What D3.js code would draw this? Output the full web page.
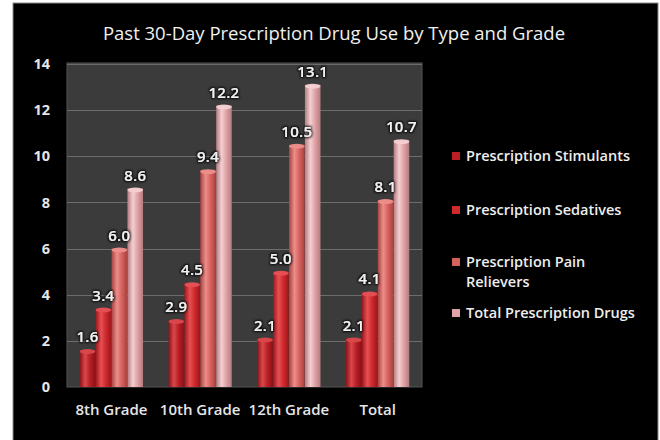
<!DOCTYPE html>
<html>
<head>
<meta charset="utf-8">
<script src="https://cdn.jsdelivr.net/npm/d3@7"></script>
<style>
  html, body { margin: 0; padding: 0; background: #ffffff; }
  svg { display: block; }
  text { font-family: "Open Sans", "DejaVu Sans", sans-serif; }
</style>
</head>
<body>
<svg id="chart" width="660" height="440"></svg>
<script>
// Data
const grades = ["8th Grade", "10th Grade", "12th Grade", "Total"];
const seriesNames = ["Prescription Stimulants", "Prescription Sedatives", "Prescription Pain Relievers", "Total Prescription Drugs"];
const stimulants = [1.6, 2.9, 2.1, 2.1];
const sedatives = [3.4, 4.5, 5.0, 4.1];
const painRelievers = [6.0, 9.4, 10.5, 8.1];
const totalDrugs = [8.6, 12.2, 13.1, 10.7];
const yTicks = [0, 2, 4, 6, 8, 10, 12, 14];
const legendLines = [["Prescription Stimulants"], ["Prescription Sedatives"], ["Prescription Pain", "Relievers"], ["Total Prescription Drugs"]];

const seriesValues = [stimulants, sedatives, painRelievers, totalDrugs];
const baseColors = ["#b91f25", "#cf2a2d", "#d6625f", "#dfa2a6"];
const lightColors = ["#d9484c", "#e65054", "#ec8e8a", "#f4cfd2"];
const darkColors = ["#8a1218", "#9c161b", "#a8423f", "#b57c80"];

const svg = d3.select("#chart");
const defs = svg.append("defs");

// Cylindrical shading for each series
baseColors.forEach((c, i) => {
  const g = defs.append("linearGradient").attr("id", "grad" + i)
    .attr("x1", "0%").attr("x2", "100%").attr("y1", "0%").attr("y2", "0%");
  g.append("stop").attr("offset", "0%").attr("stop-color", darkColors[i]);
  g.append("stop").attr("offset", "35%").attr("stop-color", lightColors[i]);
  g.append("stop").attr("offset", "65%").attr("stop-color", baseColors[i]);
  g.append("stop").attr("offset", "100%").attr("stop-color", darkColors[i]);
});

// Soft dark halo behind value labels
const f = defs.append("filter").attr("id", "halo").attr("x", "-30%").attr("y", "-30%").attr("width", "160%").attr("height", "160%");
f.append("feMorphology").attr("in", "SourceAlpha").attr("operator", "dilate").attr("radius", 1.2).attr("result", "d");
f.append("feGaussianBlur").attr("in", "d").attr("stdDeviation", 1).attr("result", "b");
f.append("feFlood").attr("flood-color", "#000").attr("flood-opacity", 0.85);
f.append("feComposite").attr("in2", "b").attr("operator", "in").attr("result", "s");
const fm = f.append("feMerge");
fm.append("feMergeNode").attr("in", "s");
fm.append("feMergeNode").attr("in", "SourceGraphic");

// Chart background
svg.append("rect").attr("x", 13).attr("y", 3).attr("width", 645).attr("height", 440).attr("fill", "#000");
svg.append("rect").attr("x", 13).attr("y", 3).attr("width", 645).attr("height", 440)
  .attr("fill", "none").attr("stroke", "#8a8a8a").attr("stroke-width", 1);

const plot = { left: 67, right: 422, top: 63, bottom: 387 };

const y = d3.scaleLinear().domain([0, 14]).range([plot.bottom, plot.top + 1]);
const x0 = d3.scaleBand().domain(grades).range([plot.left, plot.right])
  .paddingInner(0.28).paddingOuter(0.14);
const x1 = d3.scaleBand().domain(d3.range(4)).range([0, x0.bandwidth()]).padding(0.02);

// Plot area
svg.append("rect").attr("x", plot.left).attr("y", plot.top)
  .attr("width", plot.right - plot.left).attr("height", plot.bottom - plot.top)
  .attr("fill", "#3b3b3b").attr("stroke", "#555").attr("stroke-width", 1);

// Gridlines
svg.append("g").selectAll("line").data(yTicks.filter(t => t > 0)).join("line")
  .attr("x1", plot.left).attr("x2", plot.right)
  .attr("y1", d => Math.round(y(d)) + 0.5).attr("y2", d => Math.round(y(d)) + 0.5)
  .attr("stroke", "#6c6c6c").attr("stroke-width", 1);

// Y axis
const yAxis = svg.append("g").attr("transform", `translate(${plot.left - 17},0)`)
  .call(d3.axisLeft(y).tickValues(yTicks).tickSize(0).tickPadding(0).tickFormat(d3.format("d")));
yAxis.select(".domain").remove();
yAxis.selectAll("text").attr("fill", "#e6e6e6").attr("font-size", 14.5).attr("font-weight", 700)
  .attr("font-family", "'Open Sans', sans-serif");

// X axis
const xAxis = svg.append("g").attr("transform", `translate(0,${plot.bottom + 17})`)
  .call(d3.axisBottom(x0).tickSize(0).tickPadding(0));
xAxis.select(".domain").remove();
xAxis.selectAll("text").attr("fill", "#e6e6e6").attr("font-size", 15).attr("font-weight", 600)
  .attr("font-family", "'Open Sans', sans-serif").attr("dy", "0.7em");

// Bars
const rows = grades.map((g, gi) => ({ grade: g, vals: seriesValues.map(s => s[gi]) }));
const groups = svg.append("g").selectAll("g").data(rows).join("g")
  .attr("transform", d => `translate(${x0(d.grade)},0)`);

groups.selectAll("rect.bar").data(d => d.vals.map((v, i) => ({ v, i }))).join("rect")
  .attr("class", "bar")
  .attr("x", d => x1(d.i))
  .attr("y", d => y(d.v))
  .attr("width", x1.bandwidth())
  .attr("height", d => y(0) - y(d.v))
  .attr("fill", d => `url(#grad${d.i})`);

// Top caps
groups.selectAll("ellipse.cap").data(d => d.vals.map((v, i) => ({ v, i }))).join("ellipse")
  .attr("class", "cap")
  .attr("cx", d => x1(d.i) + x1.bandwidth() / 2)
  .attr("cy", d => y(d.v) + 1.5)
  .attr("rx", x1.bandwidth() / 2)
  .attr("ry", 2.5)
  .attr("fill", d => lightColors[d.i])
  .attr("opacity", 0.95);

// Value labels
groups.selectAll("text.val").data(d => d.vals.map((v, i) => ({ v, i }))).join("text")
  .attr("class", "val")
  .attr("x", d => x1(d.i) + x1.bandwidth() / 2)
  .attr("y", d => y(d.v) - 8)
  .attr("text-anchor", "middle")
  .attr("fill", "#f2f2f2")
  .attr("font-size", 15)
  .attr("font-weight", 600)
  .attr("letter-spacing", 0.3)
  .attr("filter", "url(#halo)")
  .text(d => d3.format(".1f")(d.v));

// Title
svg.append("text").attr("x", 334).attr("y", 40).attr("text-anchor", "middle")
  .attr("fill", "#f0f0f0").attr("font-size", 18.5)
  .text("Past 30-Day Prescription Drug Use by Type and Grade");

// Legend
const legendY = [156, 210, 262, 313];
const legend = svg.append("g").selectAll("g").data(seriesNames).join("g")
  .attr("transform", (d, i) => `translate(452,${legendY[i]})`);
legend.append("rect").attr("x", 0).attr("y", -4).attr("width", 8).attr("height", 8)
  .attr("fill", (d, i) => baseColors[i]);
legend.append("text").attr("x", 14).attr("y", 0).attr("fill", "#eeeeee")
  .attr("font-size", 14.5).attr("font-weight", 600)
  .selectAll("tspan").data((d, i) => legendLines[i]).join("tspan")
  .attr("x", 14).attr("dy", (d, j) => j === 0 ? "0.35em" : "1.35em").text(d => d);
</script>
</body>
</html>
